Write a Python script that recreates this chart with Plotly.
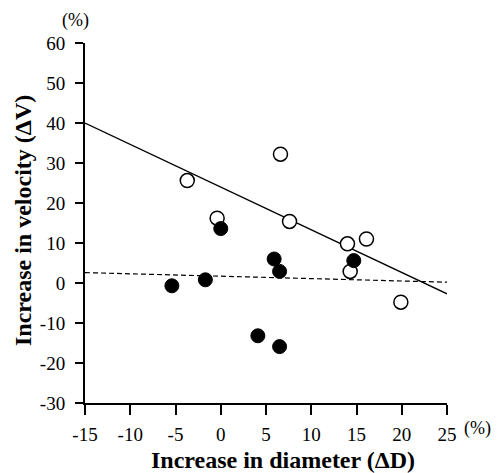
import plotly.graph_objects as go

open_x = [-3.7, -0.4, 6.6, 7.6, 16.1, 14.0, 14.3, 19.9]
open_y = [25.6, 16.2, 32.2, 15.4, 11.0, 9.8, 2.9, -4.8]
filled_x = [-5.4, -1.7, 0.0, 5.9, 6.5, 14.7, 4.1, 6.5]
filled_y = [-0.7, 0.8, 13.6, 6.0, 2.9, 5.6, -13.2, -15.9]

fit_x = [-15, 25]
solid_y = [40, -2.7]
dashed_y = [2.6, 0.2]

xticks = [-15, -10, -5, 0, 5, 10, 15, 20, 25]
yticks = [-30, -20, -10, 0, 10, 20, 30, 40, 50, 60]

font = "Liberation Serif"

fig = go.Figure()
fig.add_trace(go.Scatter(x=fit_x, y=solid_y, mode="lines",
                         line=dict(color="black", width=1.3), hoverinfo="skip"))
fig.add_trace(go.Scatter(x=fit_x, y=dashed_y, mode="lines",
                         line=dict(color="black", width=1.2, dash="5px,3px"), hoverinfo="skip"))
fig.add_trace(go.Scatter(x=open_x, y=open_y, mode="markers",
                         marker=dict(size=14, color="white", line=dict(color="black", width=1.5))))
fig.add_trace(go.Scatter(x=filled_x, y=filled_y, mode="markers",
                         marker=dict(size=14, color="black", line=dict(color="black", width=1))))

fig.update_layout(
    width=501, height=473,
    margin=dict(l=77, r=62, t=35, b=78, autoexpand=False),
    paper_bgcolor="white", plot_bgcolor="white",
    showlegend=False,
    font=dict(family=font, color="black", size=19),
    xaxis=dict(range=[-15, 25], tickvals=xticks, ticktext=[str(v) for v in xticks],
               showgrid=False, zeroline=False, showline=True, linecolor="black", linewidth=2,
               ticks="outside", ticklen=10, tickwidth=2, tickcolor="black", automargin=False,
               ticklabelstandoff=3,
               tickfont=dict(size=19, family=font, color="black")),
    yaxis=dict(range=[-30, 60], tickvals=yticks, ticktext=[str(v) for v in yticks],
               showgrid=False, zeroline=False, showline=True, linecolor="black", linewidth=2,
               ticks="outside", ticklen=8, tickwidth=2, tickcolor="black", automargin=False,
               ticklabelstandoff=6,
               tickfont=dict(size=19, family=font, color="black")),
    annotations=[
        dict(text="<b>Increase in diameter (ΔD)</b>", xref="paper", yref="paper", x=0.5, y=0.0,
             xshift=17, yshift=-57, showarrow=False, font=dict(size=24, family=font),
             xanchor="center", yanchor="middle"),
        dict(text="<b>Increase in velocity (ΔV)</b>", xref="paper", yref="paper", x=0.0, y=0.5,
             xshift=-62, yshift=2, textangle=-90, showarrow=False, font=dict(size=24, family=font),
             xanchor="center", yanchor="middle"),
        dict(text="(%)", xref="paper", yref="paper", x=0.0, y=1.0, xshift=-10, yshift=23,
             showarrow=False, font=dict(size=18, family=font), xanchor="center", yanchor="middle"),
        dict(text="(%)", xref="paper", yref="paper", x=1.0, y=0.0, xshift=30, yshift=-25,
             showarrow=False, font=dict(size=18, family=font), xanchor="center", yanchor="middle"),
    ],
)

fig.write_html("out.html")
